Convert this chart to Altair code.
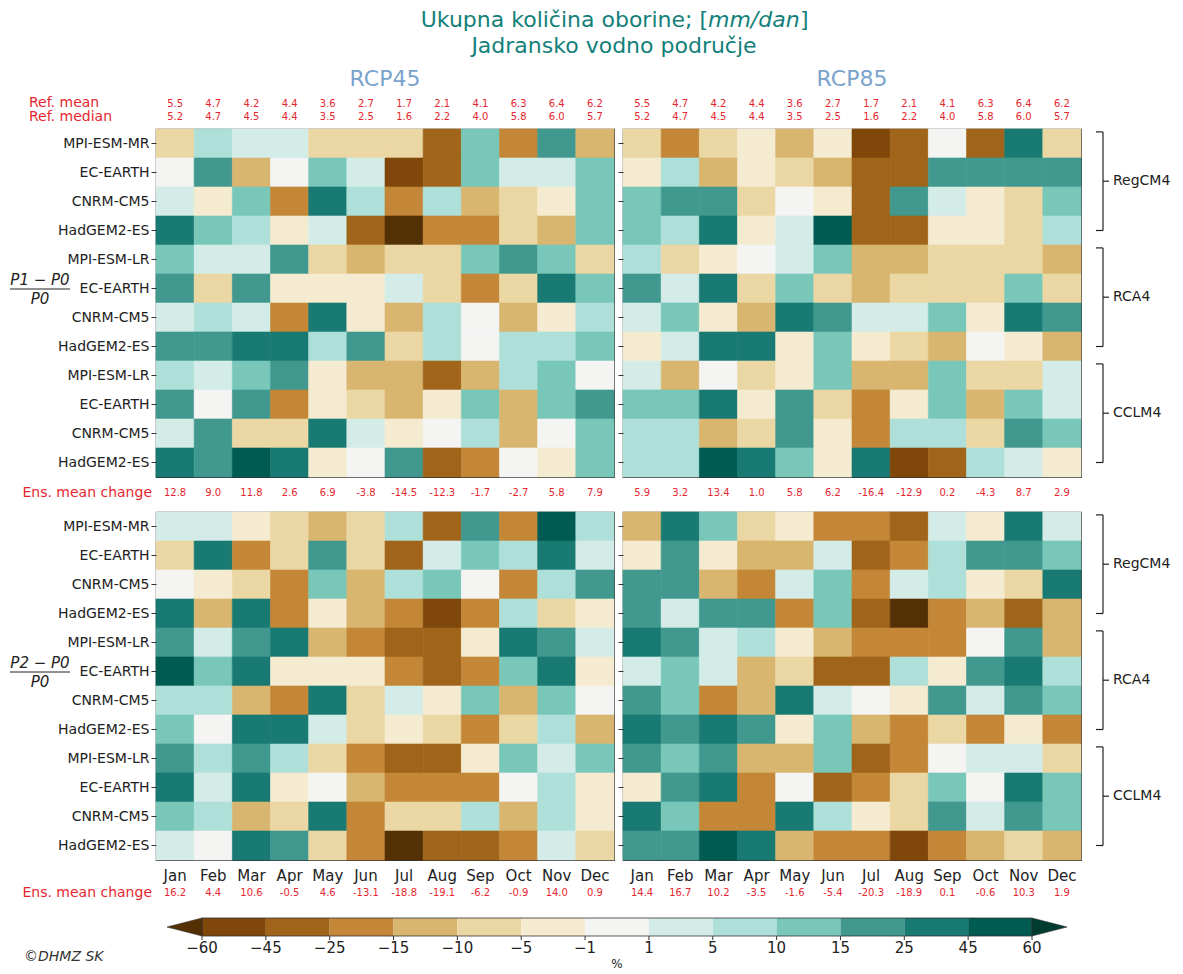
import altair as alt
import pandas as pd

# ---------------- data ----------------
months = ["Jan", "Feb", "Mar", "Apr", "May", "Jun", "Jul", "Aug", "Sep", "Oct", "Nov", "Dec"]
models = ["MPI-ESM-MR", "EC-EARTH", "CNRM-CM5", "HadGEM2-ES",
          "MPI-ESM-LR", "EC-EARTH", "CNRM-CM5", "HadGEM2-ES",
          "MPI-ESM-LR", "EC-EARTH", "CNRM-CM5", "HadGEM2-ES"]
rcm_groups = ["RegCM4", "RCA4", "CCLM4"]
group_first_row = [0, 4, 8]

ref_mean = [5.5, 4.7, 4.2, 4.4, 3.6, 2.7, 1.7, 2.1, 4.1, 6.3, 6.4, 6.2]
ref_median = [5.2, 4.7, 4.5, 4.4, 3.5, 2.5, 1.6, 2.2, 4.0, 5.8, 6.0, 5.7]

ens_rcp45_p1 = [12.8, 9.0, 11.8, 2.6, 6.9, -3.8, -14.5, -12.3, -1.7, -2.7, 5.8, 7.9]
ens_rcp85_p1 = [5.9, 3.2, 13.4, 1.0, 5.8, 6.2, -16.4, -12.9, 0.2, -4.3, 8.7, 2.9]
ens_rcp45_p2 = [16.2, 4.4, 10.6, -0.5, 4.6, -13.1, -18.8, -19.1, -6.2, -0.9, 14.0, 0.9]
ens_rcp85_p2 = [14.4, 16.7, 10.2, -3.5, -1.6, -5.4, -20.3, -18.9, 0.1, -0.6, 10.3, 1.9]

# relative change (%) per model (rows) and month (columns), estimated from the colours
rcp45_p1 = [
    [-7, 7, 3, 3, -7, -7, -7, -35, 12, -20, 20, -12],
    [0, 20, -12, 0, 12, 3, -52, -35, 12, 3, 3, 12],
    [3, -3, 12, -20, 35, 7, -20, 7, -12, -7, -3, 12],
    [35, 12, 7, -3, 3, -35, -65, -20, -20, -7, -12, 12],
    [12, 3, 3, 20, -7, -12, -7, -7, 12, 20, 12, -7],
    [20, -7, 20, -3, -3, -3, 3, -7, -20, -7, 35, 12],
    [3, 7, 3, -20, 35, -3, -12, 7, 0, -12, -3, 7],
    [20, 20, 35, 35, 7, 20, -7, 7, 0, 7, 7, 12],
    [7, 3, 12, 20, -3, -12, -12, -35, -12, 7, 12, 0],
    [20, 0, 20, -20, -3, -7, -12, -3, 12, -12, 12, 20],
    [3, 20, -7, -7, 35, 3, -3, 0, 7, -12, 0, 12],
    [35, 20, 52, 35, -3, 0, 20, -35, -20, 0, -3, 12],
]
rcp85_p1 = [
    [-7, -20, -7, -3, -12, -3, -52, -35, 0, -35, 35, -7],
    [-3, 7, -12, -3, -7, -12, -35, -35, 20, 20, 20, 20],
    [12, 20, 20, -7, 0, -3, -35, 20, 3, -3, -7, 12],
    [12, 7, 35, -3, 3, 52, -35, -35, -3, -3, -7, 7],
    [7, -7, -3, 0, 3, 12, -12, -12, -7, -7, -7, -12],
    [20, 3, 35, -7, 12, -7, -12, -7, -7, -7, 12, -7],
    [3, 12, -3, -12, 35, 20, 3, 3, 12, -3, 35, 20],
    [-3, 3, 35, 35, -3, 12, -3, -7, -12, 0, -3, -12],
    [3, -12, 0, -7, -3, 12, -12, -12, 12, -7, -7, 3],
    [12, 12, 35, -3, 20, -7, -20, -3, 12, -12, 12, 3],
    [7, 7, -12, -7, 20, -3, -20, 7, 7, -7, 20, 12],
    [7, 7, 52, 35, 12, -3, 35, -52, -35, 7, 3, -3],
]
rcp45_p2 = [
    [3, 3, -3, -7, -12, -7, 7, -35, 20, -20, 52, 7],
    [-7, 35, -20, -7, 20, -7, -35, 3, 12, 7, 35, 3],
    [0, -3, -7, -20, 12, -12, 7, 12, 0, -20, 7, 20],
    [35, -12, 35, -20, -3, -12, -20, -52, -20, 7, -7, -3],
    [20, 3, 20, 35, -12, -20, -35, -35, -3, 35, 20, 3],
    [52, 12, 35, -3, -3, -3, -20, -35, -20, 12, 35, -3],
    [7, 7, -12, -20, 35, -7, 3, -3, 12, -12, 12, 0],
    [12, 0, 35, 35, 3, -7, -3, -7, -20, -7, 7, -12],
    [20, 7, 20, 7, -7, -20, -35, -35, -3, 12, 3, 12],
    [35, 3, 35, -3, 0, -12, -20, -20, -20, 0, 7, -3],
    [12, 7, -12, -7, 35, -20, -7, -7, 7, -12, 7, -3],
    [3, 0, 35, 20, -7, -20, -65, -35, -35, -20, 3, -7],
]
rcp85_p2 = [
    [-12, 35, 12, -7, -3, -20, -20, -35, 3, -3, 35, 3],
    [-3, 20, -3, -12, -12, 3, -35, -20, 7, 20, 20, 12],
    [20, 20, -12, -20, 3, 12, -20, 3, 7, -3, -7, 35],
    [20, 3, 20, 20, -20, 12, -35, -65, -20, -12, -35, -12],
    [35, 20, 3, 7, -3, -12, -20, -20, -20, 0, 20, -12],
    [3, 12, 3, -12, -7, -35, -35, 7, -3, 20, 35, 7],
    [20, 12, -20, -12, 35, 3, 0, -3, 20, 3, 20, 12],
    [35, 20, 35, 20, -3, 12, -12, -20, -7, -20, -3, -20],
    [20, 12, 20, -12, -12, 12, -35, -20, 0, 3, 3, -7],
    [-3, 20, 35, -20, 0, -35, -20, -7, 12, 0, 35, 12],
    [35, 12, -20, -20, 35, 7, -3, -7, 20, 3, 20, 12],
    [20, 20, 52, 35, -12, -20, -20, -52, -20, -12, -7, -12],
]

thresholds = [-60, -45, -25, -15, -10, -5, -1, 1, 5, 10, 15, 25, 45, 60]
bin_colors = ["#543005", "#7f4709", "#a0651a", "#c38737", "#d9b670", "#ebd7a4", "#f5ebd0",
              "#f4f4f2", "#d4ece8", "#aee0d9", "#78c7b9", "#40988f", "#187a72", "#005b52", "#003c30"]
tick_labels = ["\u221260", "\u221245", "\u221225", "\u221215", "\u221210", "\u22125", "\u22121",
               "1", "5", "10", "15", "25", "45", "60"]

# ---------------- style ----------------
FONT = "DejaVu Sans"
RED = "#e6262e"
TEAL = "#13807a"
RCPBLUE = "#7aa3cc"
DARK = "#222222"
W, H = 458, 348


def grid_df(mat):
    recs = []
    for r, row in enumerate(mat):
        for c, v in enumerate(row):
            recs.append({"month": months[c], "row": r, "value": v})
    return pd.DataFrame(recs)


def label(txt, x, y, **kw):
    return alt.Chart(pd.DataFrame({"t": [txt]})).mark_text(**kw).encode(
        x=alt.value(x), y=alt.value(y), text="t:N")


label_expr = "[" + ",".join("'%s'" % m for m in models) + "][datum.value]"
cscale = alt.Scale(type="threshold", domain=thresholds, range=bin_colors)


def panel(mat, ens, left, bottom, top, rcp_title, frac_top=None):
    heat = alt.Chart(grid_df(mat)).mark_rect(strokeWidth=0.6).encode(
        x=alt.X("month:O", sort=months, scale=alt.Scale(paddingInner=0, paddingOuter=0),
                axis=alt.Axis(title=None, labels=False, tickSize=5, tickColor="#333",
                              domain=False)),
        y=alt.Y("row:O", scale=alt.Scale(paddingInner=0, paddingOuter=0),
                axis=alt.Axis(title=None, labels=left, labelExpr=label_expr, labelFontSize=14,
                              labelColor=DARK, tickSize=5, tickColor="#333", domain=False,
                              labelPadding=2, labelFont=FONT)),
        color=alt.Color("value:Q", scale=cscale, legend=None),
        stroke=alt.Stroke("value:Q", scale=cscale, legend=None),
    )
    layers = [heat]
    ens_df = pd.DataFrame({"month": months, "val": ["%.1f" % v for v in ens]})
    ens_y = 381 if bottom else 364
    layers.append(alt.Chart(ens_df).mark_text(fontSize=10, color=RED, font=FONT).encode(
        x=alt.X("month:O", sort=months, axis=None), y=alt.value(ens_y), text="val:N"))
    if bottom:
        layers.append(alt.Chart(ens_df).mark_text(fontSize=15, color=DARK, font=FONT).encode(
            x=alt.X("month:O", sort=months, axis=None), y=alt.value(H + 16), text="month:N"))
    if left:
        layers.append(label("Ens. mean change", -4, ens_y, align="right", fontSize=14,
                            color=RED, font=FONT))
        # fraction label
        num, den = frac_top
        layers.append(label(num, -116, 151, align="center", fontSize=15, fontStyle="italic",
                            color=DARK, font=FONT))
        layers.append(label(den, -116, 170, align="center", fontSize=15, fontStyle="italic",
                            color=DARK, font=FONT))
        layers.append(alt.Chart(pd.DataFrame({"a": [0]})).mark_rule(color=DARK, strokeWidth=1).encode(
            x=alt.value(-146), x2=alt.value(-86), y=alt.value(160)))
    if top:
        ref_df = pd.DataFrame({"month": months,
                               "mean": ["%.1f" % v for v in ref_mean],
                               "median": ["%.1f" % v for v in ref_median]})
        layers.append(alt.Chart(ref_df).mark_text(fontSize=10, color=RED, font=FONT).encode(
            x=alt.X("month:O", sort=months, axis=None), y=alt.value(-25), text="mean:N"))
        layers.append(alt.Chart(ref_df).mark_text(fontSize=10, color=RED, font=FONT).encode(
            x=alt.X("month:O", sort=months, axis=None), y=alt.value(-12), text="median:N"))
        layers.append(label(rcp_title, W / 2, -50, align="center", fontSize=22,
                            color=RCPBLUE, font=FONT))
        if left:
            layers.append(label("Ref. mean", -127, -26.5, align="left", fontSize=14,
                                color=RED, font=FONT))
            layers.append(label("Ref. median", -127, -12, align="left", fontSize=14,
                                color=RED, font=FONT))
            # main title (line 1 has an italic unit)
            layers.append(label("Ukupna količina oborine; [", 552, -109, align="right",
                                fontSize=22, color=TEAL, font=FONT))
            layers.append(label("mm/dan", 552, -109, align="left", fontSize=22,
                                fontStyle="italic", color=TEAL, font=FONT))
            layers.append(label("]", 644, -109, align="left", fontSize=22,
                                color=TEAL, font=FONT))
            layers.append(label("Jadransko vodno područje", 458, -83, align="center",
                                fontSize=22, color=TEAL, font=FONT))
    return alt.layer(*layers).properties(
        width=W, height=H, view=alt.ViewBackground(stroke="#333", strokeWidth=1.2))


def brackets():
    df = pd.DataFrame({"rcm": rcm_groups, "first": group_first_row})
    df["top"] = df["first"] + 0.1
    df["bot"] = df["first"] + 3.5
    df["mid"] = df["first"] + 1.8
    ys = alt.Scale(domain=[0, 12], reverse=True)
    base = alt.Chart(df)
    rule = dict(color=DARK, strokeWidth=1.2)
    vert = base.mark_rule(**rule).encode(
        x=alt.value(13), y=alt.Y("top:Q", scale=ys, axis=None), y2="bot:Q")
    t1 = base.mark_rule(**rule).encode(
        x=alt.value(6), x2=alt.value(13), y=alt.Y("top:Q", scale=ys, axis=None))
    t2 = base.mark_rule(**rule).encode(
        x=alt.value(6), x2=alt.value(13), y=alt.Y("bot:Q", scale=ys, axis=None))
    t3 = base.mark_rule(**rule).encode(
        x=alt.value(13), x2=alt.value(19), y=alt.Y("mid:Q", scale=ys, axis=None))
    lab = base.mark_text(align="left", fontSize=14, color=DARK, font=FONT).encode(
        x=alt.value(23), y=alt.Y("mid:Q", scale=ys, axis=None), text="rcm:N")
    return alt.layer(vert, t1, t2, t3, lab).properties(
        width=80, height=H, view=alt.ViewBackground(stroke="transparent"))


def colorbar():
    cx = alt.Scale(domain=[0, 13], range=[46, 876])
    bins = pd.DataFrame({"lo": list(range(13)), "hi": list(range(1, 14)),
                         "color": bin_colors[1:14]})
    bars = alt.Chart(bins).mark_rect().encode(
        x=alt.X("lo:Q", scale=cx, axis=None), x2="hi:Q",
        y=alt.value(23), y2=alt.value(41),
        color=alt.Color("color:N", scale=None))
    outline = alt.Chart(pd.DataFrame({"lo": [0], "hi": [13]})).mark_rect(
        fill="transparent", stroke="#333", strokeWidth=0.8).encode(
        x=alt.X("lo:Q", scale=cx, axis=None), x2="hi:Q", y=alt.value(23), y2=alt.value(41))
    ticks_df = pd.DataFrame({"pos": list(range(14)), "lab": tick_labels})
    ticks = alt.Chart(ticks_df).mark_rule(color="#333", strokeWidth=1).encode(
        x=alt.X("pos:Q", scale=cx, axis=None), y=alt.value(41), y2=alt.value(45))
    labs = alt.Chart(ticks_df).mark_text(fontSize=15, color=DARK, font=FONT).encode(
        x=alt.X("pos:Q", scale=cx, axis=None), y=alt.value(53), text="lab:N")
    left_tri = alt.Chart(pd.DataFrame({"pos": [0]})).mark_point(
        shape="M1,-0.514L-1,0L1,0.514Z", size=1225, filled=True, color=bin_colors[0],
        stroke="#333", strokeWidth=0.6, opacity=1, xOffset=-17.5).encode(
        x=alt.X("pos:Q", scale=cx, axis=None), y=alt.value(32))
    right_tri = alt.Chart(pd.DataFrame({"pos": [13]})).mark_point(
        shape="M-1,-0.514L1,0L-1,0.514Z", size=1225, filled=True, color=bin_colors[-1],
        stroke="#333", strokeWidth=0.6, opacity=1, xOffset=17.5).encode(
        x=alt.X("pos:Q", scale=cx, axis=None), y=alt.value(32))
    pct = alt.Chart(pd.DataFrame({"pos": [6.5], "t": ["%"]})).mark_text(
        fontSize=12, color=DARK, font=FONT).encode(
        x=alt.X("pos:Q", scale=cx, axis=None), y=alt.value(69), text="t:N")
    credit = label("\u00a9DHMZ SK", -132, 62, align="left", fontSize=14,
                   fontStyle="italic", color="#333", font=FONT)
    return alt.layer(bars, outline, ticks, labs, left_tri, right_tri, pct, credit).properties(
        width=W, height=41, view=alt.ViewBackground(stroke="transparent"))


frac1 = ("P1 \u2212 P0", "P0")
frac2 = ("P2 \u2212 P0", "P0")

tl = panel(rcp45_p1, ens_rcp45_p1, left=True, bottom=False, top=True, rcp_title="RCP45", frac_top=frac1)
tr = panel(rcp85_p1, ens_rcp85_p1, left=False, bottom=False, top=True, rcp_title="RCP85")
bl = panel(rcp45_p2, ens_rcp45_p2, left=True, bottom=True, top=False, rcp_title="", frac_top=frac2)
br = panel(rcp85_p2, ens_rcp85_p2, left=False, bottom=True, top=False, rcp_title="")

chart = alt.concat(
    tl, tr, brackets(), bl, br, brackets(), colorbar(),
    columns=3, spacing={"row": 35, "column": 9}, bounds="flush",
).properties(
    padding={"left": 0, "top": 0, "right": 0, "bottom": 0},
    background="white",
).configure(font=FONT).configure_view(stroke="transparent")

chart.save("out.html", embed_options={"renderer": "svg", "actions": False})
